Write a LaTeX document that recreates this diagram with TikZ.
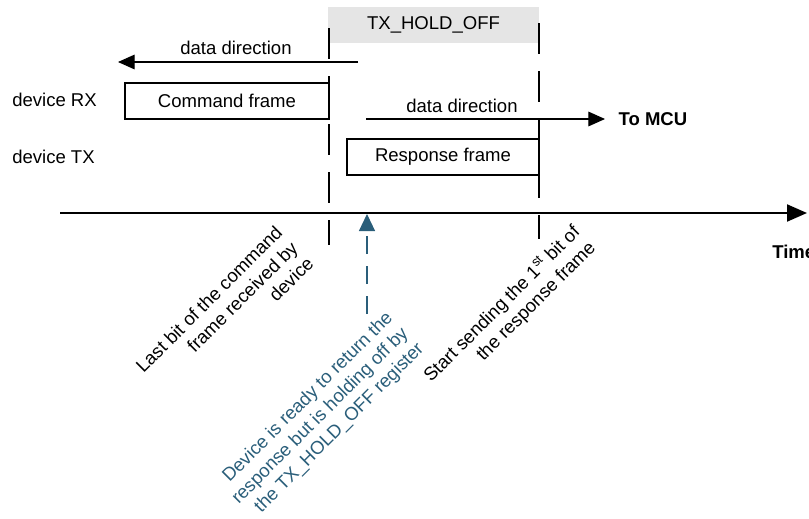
\documentclass[tikz,border=0pt]{standalone}
\usepackage{fontspec}
\setmainfont{Liberation Sans}
\usetikzlibrary{positioning,arrows.meta}
\definecolor{holdblue}{RGB}{42,94,122}
\definecolor{holdgray}{RGB}{229,229,229}

\begin{document}
\begin{tikzpicture}[x=0.75pt,y=-0.75pt,
  every node/.style={font=\fontsize{13.9pt}{16.5pt}\selectfont, inner sep=0pt},
  framebox/.style={draw, line width=1.2pt, minimum height=27pt},
  marker/.style={line width=1pt, dash pattern=on 23.25pt off 12.75pt},
  dataarrow/.style={line width=0.8pt, -{Triangle[length=12.5pt,width=11pt]}},
  note/.style={rotate=45, anchor=north east, align=right}]
  \useasboundingbox (0,0) rectangle (809,518);

  \node[fill=holdgray, minimum width=158.25pt, minimum height=27pt] (hold) at (433.5,25) {TX\_HOLD\_OFF};
  \node[framebox, minimum width=153pt] (cmd) at (227,101) {Command frame};
  \node[framebox, minimum width=144pt] (resp) at (443,157) {Response frame};
  \node[anchor=west] (rx) at (12,100) {device RX};
  \node[anchor=west] (tx) at (12,157) {device TX};

  \coordinate (lastbittop) at (329,28);
  \coordinate (lastbitbot) at (329,245);
  \coordinate (starttop) at (539,23);
  \coordinate (startbot) at (539,239);
  \draw[marker] (lastbittop) -- (lastbitbot);
  \draw[marker] (starttop) -- (startbot);

  \coordinate (rxdirstart) at (358,62);
  \coordinate (rxdirend) at (118,62);
  \draw[dataarrow] (rxdirstart) -- (rxdirend);
  \node (rxdirlbl) at (236,48) {data direction};

  \coordinate (txdirstart) at (366,119);
  \coordinate (txdirend) at (605,119);
  \draw[dataarrow] (txdirstart) -- (txdirend);
  \node (txdirlbl) at (462,106) {data direction};
  \node[right=10pt of txdirend] (mcu) {\textbf{To MCU}};

  \coordinate (t0) at (60,213);
  \coordinate (t1) at (807,213);
  \draw[line width=1.5pt, -{Triangle[length=15pt,width=12.75pt]}] (t0) -- (t1);
  \node[anchor=west] (time) at (772,252) {\textbf{Time}};

  \coordinate (ready) at (367,214);
  \coordinate (readyend) at (367,314);
  \draw[holdblue, line width=0.9pt, dash pattern=on 13.5pt off 9pt,
    -{Triangle[length=12.75pt,width=12pt]}] (readyend) -- (ready);

  \node[note] (lastbitlbl) at (274,224) {Last bit of the command\\frame received by\\device};
  \node[note, text=holdblue] (readylbl) at (384,309) {Device is ready to return the\\response but is holding off by\\the TX\_HOLD\_OFF register};
  \node[note] (startlbl) at (570,222) {Start sending the 1\textsuperscript{st} bit of\\the response frame};
\end{tikzpicture}
\end{document}
